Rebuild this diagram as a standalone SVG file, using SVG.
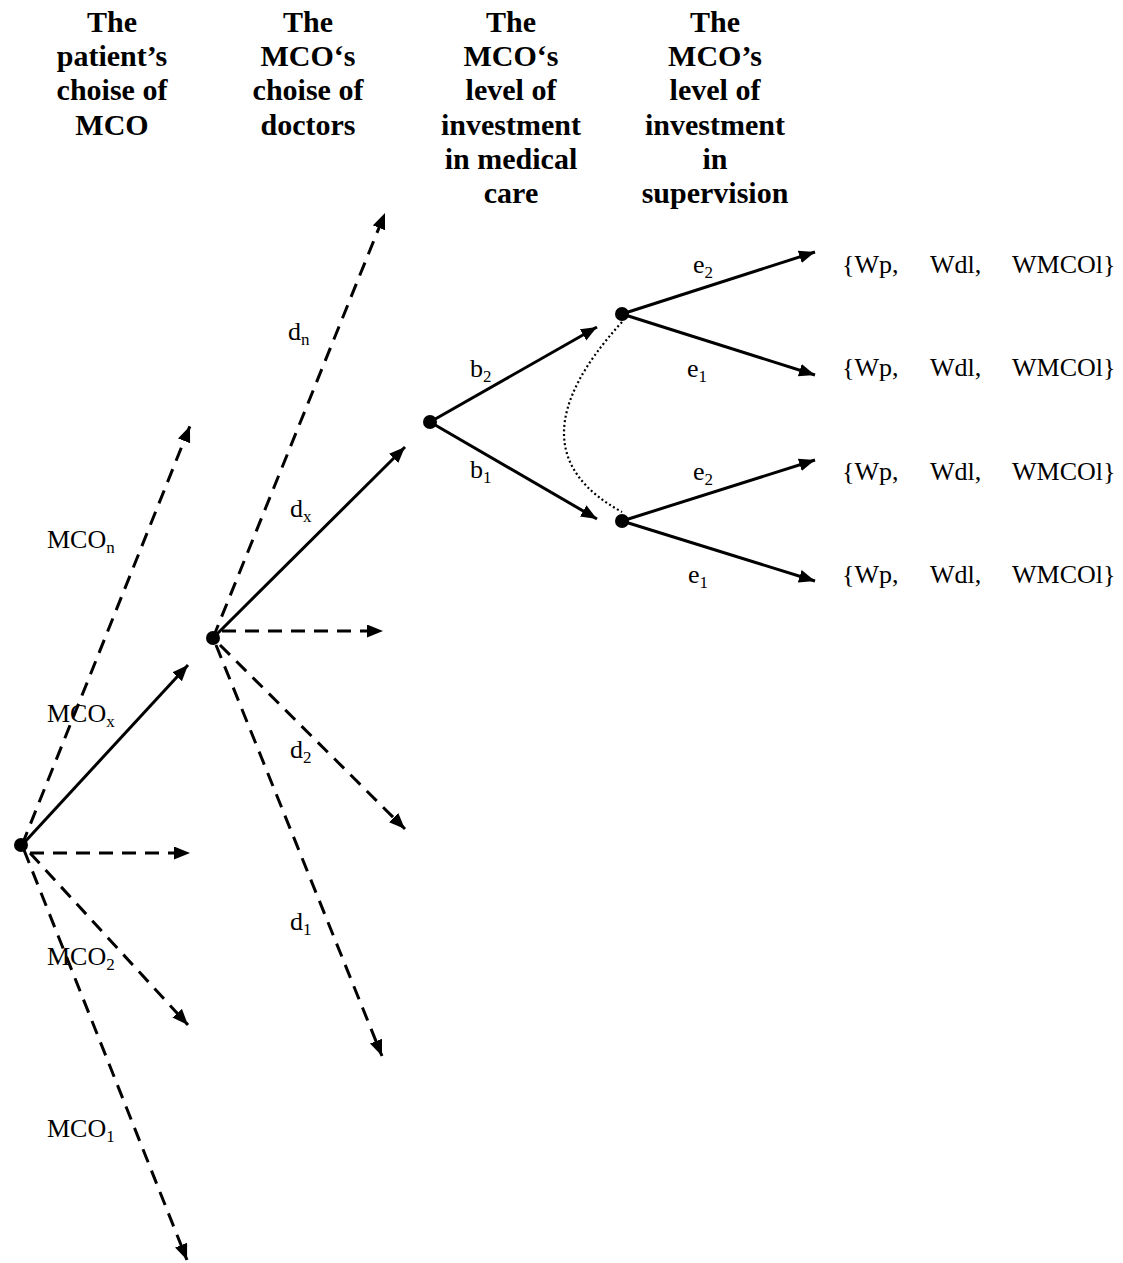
<svg xmlns="http://www.w3.org/2000/svg" width="1123" height="1263" viewBox="0 0 1123 1263">
<style>
.hd{font-family:"Liberation Serif","Times New Roman",serif;font-weight:bold;font-size:30px;text-anchor:middle;fill:#000}
.lb{font-family:"Liberation Serif","Times New Roman",serif;font-size:26px;fill:#000}
.sb{font-size:17px}
.solid{stroke:#000;stroke-width:3;fill:none;marker-end:url(#ah)}
.dash{stroke:#000;stroke-width:3;fill:none;stroke-dasharray:14 9;marker-end:url(#ah)}
.dot{stroke:#000;stroke-width:2.2;fill:none;stroke-dasharray:2 2.6}
.nd{fill:#000}
</style>
<defs>
<marker id="ah" markerUnits="userSpaceOnUse" markerWidth="18" markerHeight="14" refX="16" refY="6.5" orient="auto">
<path d="M0,0 L16,6.5 L0,13 z" fill="#000"/>
</marker>
</defs>
<rect width="1123" height="1263" fill="#fff"/>
<g id="headers">
<text class="hd" x="112" y="32">The</text>
<text class="hd" x="112" y="66">patient’s</text>
<text class="hd" x="112" y="100">choise of</text>
<text class="hd" x="112" y="135">MCO</text>
<text class="hd" x="308" y="32">The</text>
<text class="hd" x="308" y="66">MCO‘s</text>
<text class="hd" x="308" y="100">choise of</text>
<text class="hd" x="308" y="135">doctors</text>
<text class="hd" x="511" y="32">The</text>
<text class="hd" x="511" y="66">MCO‘s</text>
<text class="hd" x="511" y="100">level of</text>
<text class="hd" x="511" y="135">investment</text>
<text class="hd" x="511" y="169">in medical</text>
<text class="hd" x="511" y="203">care</text>
<text class="hd" x="715" y="32">The</text>
<text class="hd" x="715" y="66">MCO’s</text>
<text class="hd" x="715" y="100">level of</text>
<text class="hd" x="715" y="135">investment</text>
<text class="hd" x="715" y="169">in</text>
<text class="hd" x="715" y="203">supervision</text>
</g>
<g id="connectors">
<line class="dash" x1="22" y1="845" x2="190" y2="426"/>
<line class="solid" x1="22" y1="845" x2="188" y2="665"/>
<line class="dash" x1="30" y1="853" x2="190" y2="853"/>
<line class="dash" x1="30" y1="853" x2="188" y2="1025"/>
<line class="dash" x1="24" y1="850" x2="187" y2="1260"/>
<line class="dash" x1="213" y1="638" x2="385" y2="213"/>
<line class="solid" x1="213" y1="638" x2="405" y2="447"/>
<line class="dash" x1="222" y1="631" x2="383" y2="631"/>
<line class="dash" x1="220" y1="645" x2="405" y2="829"/>
<line class="dash" x1="216" y1="645" x2="382" y2="1056"/>
<line class="solid" x1="430" y1="422" x2="597" y2="327"/>
<line class="solid" x1="430" y1="422" x2="597" y2="519"/>
<line class="solid" x1="622" y1="314" x2="815" y2="252"/>
<line class="solid" x1="622" y1="314" x2="815" y2="375"/>
<line class="solid" x1="622" y1="521" x2="815" y2="460"/>
<line class="solid" x1="622" y1="521" x2="815" y2="581"/>
<path class="dot" d="M622 322 Q506 449 622 512"/>
</g>
<g id="n-root"><circle class="nd" cx="21" cy="845" r="7"/></g>
<g id="n-doctors"><circle class="nd" cx="213" cy="638" r="7"/></g>
<g id="n-care"><circle class="nd" cx="430" cy="422" r="7"/></g>
<g id="n-sup-upper"><circle class="nd" cx="622" cy="314" r="7"/></g>
<g id="n-sup-lower"><circle class="nd" cx="622" cy="521" r="7"/></g>
<g id="edge-labels">
<text class="lb" x="47" y="548">MCO<tspan class="sb" dy="5">n</tspan></text>
<text class="lb" x="47" y="722">MCO<tspan class="sb" dy="5">x</tspan></text>
<text class="lb" x="47" y="965">MCO<tspan class="sb" dy="5">2</tspan></text>
<text class="lb" x="47" y="1137">MCO<tspan class="sb" dy="5">1</tspan></text>
<text class="lb" x="288" y="340">d<tspan class="sb" dy="5">n</tspan></text>
<text class="lb" x="290" y="517">d<tspan class="sb" dy="5">x</tspan></text>
<text class="lb" x="290" y="758">d<tspan class="sb" dy="5">2</tspan></text>
<text class="lb" x="290" y="930">d<tspan class="sb" dy="5">1</tspan></text>
<text class="lb" x="470" y="377">b<tspan class="sb" dy="5">2</tspan></text>
<text class="lb" x="470" y="478">b<tspan class="sb" dy="5">1</tspan></text>
<text class="lb" x="693" y="273">e<tspan class="sb" dy="5">2</tspan></text>
<text class="lb" x="687" y="377">e<tspan class="sb" dy="5">1</tspan></text>
<text class="lb" x="693" y="480">e<tspan class="sb" dy="5">2</tspan></text>
<text class="lb" x="688" y="583">e<tspan class="sb" dy="5">1</tspan></text>
</g>
<g id="payoffs">
<g id="payoff-1"><text class="lb" x="842" y="273">{Wp,</text><text class="lb" x="930" y="273">Wdl,</text><text class="lb" x="1012" y="273">WMCOl}</text></g>
<g id="payoff-2"><text class="lb" x="842" y="376">{Wp,</text><text class="lb" x="930" y="376">Wdl,</text><text class="lb" x="1012" y="376">WMCOl}</text></g>
<g id="payoff-3"><text class="lb" x="842" y="480">{Wp,</text><text class="lb" x="930" y="480">Wdl,</text><text class="lb" x="1012" y="480">WMCOl}</text></g>
<g id="payoff-4"><text class="lb" x="842" y="583">{Wp,</text><text class="lb" x="930" y="583">Wdl,</text><text class="lb" x="1012" y="583">WMCOl}</text></g>
</g>
</svg>
